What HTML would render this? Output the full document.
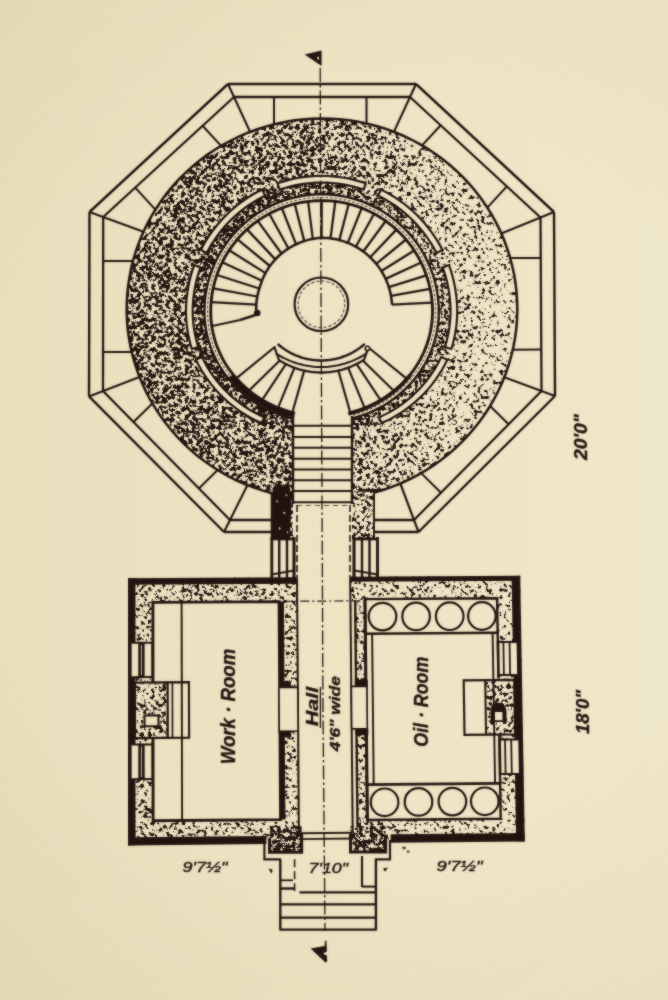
<!DOCTYPE html>
<html><head><meta charset="utf-8"><title>Lighthouse plan</title>
<style>html,body{margin:0;padding:0;background:#ebe3c2;}svg{display:block}</style>
</head><body>
<svg width="668" height="1000" viewBox="0 0 668 1000">
<defs>
<linearGradient id="paper" gradientUnits="userSpaceOnUse" x1="0" y1="0" x2="668" y2="0">
<stop offset="0" stop-color="#e8dfbd"/>
<stop offset="0.5" stop-color="#ece4c3"/>
<stop offset="1" stop-color="#efe7c9"/>
</linearGradient>
<radialGradient id="vig" gradientUnits="userSpaceOnUse" cx="350" cy="480" r="640">
<stop offset="0" stop-color="#8a7430" stop-opacity="0"/>
<stop offset="0.6" stop-color="#8a7430" stop-opacity="0"/>
<stop offset="1" stop-color="#8a7430" stop-opacity="0.065"/>
</radialGradient>
<linearGradient id="dens" gradientUnits="userSpaceOnUse" x1="127" y1="0" x2="517" y2="0">
<stop offset="0" stop-color="#818181"/>
<stop offset="0.45" stop-color="#838383"/>
<stop offset="0.62" stop-color="#8e8e8e"/>
<stop offset="0.8" stop-color="#9d9d9d"/>
<stop offset="1" stop-color="#a6a6a6"/>
</linearGradient>
<linearGradient id="bdens" x1="0" y1="0" x2="1" y2="0">
<stop offset="0" stop-color="#979797"/>
<stop offset="0.5" stop-color="#9b9b9b"/>
<stop offset="1" stop-color="#a2a2a2"/>
</linearGradient>
<filter id="stip" x="0" y="0" width="100%" height="100%" filterUnits="objectBoundingBox" color-interpolation-filters="sRGB">
<feTurbulence type="fractalNoise" baseFrequency="0.27" numOctaves="3" seed="7" result="n"/>
<feColorMatrix in="n" type="matrix" values="1 0 0 0 0  1 0 0 0 0  1 0 0 0 0  0 0 0 0 1" result="ng"/>
<feTurbulence type="fractalNoise" baseFrequency="0.07" numOctaves="2" seed="3" result="m"/>
<feColorMatrix in="m" type="matrix" values="1 0 0 0 0  1 0 0 0 0  1 0 0 0 0  0 0 0 0 1" result="mg"/>
<feComposite in="ng" in2="mg" operator="arithmetic" k1="0" k2="1" k3="0.25" k4="-0.125" result="nm"/>
<feComposite in="nm" in2="SourceGraphic" operator="arithmetic" k1="0" k2="1" k3="1" k4="-0.5" result="s"/>
<feComponentTransfer in="s" result="t">
<feFuncR type="linear" slope="10" intercept="-4.64"/>
<feFuncG type="linear" slope="10" intercept="-4.64"/>
<feFuncB type="linear" slope="10" intercept="-4.64"/>
</feComponentTransfer>
<feColorMatrix in="t" type="matrix" values="0 0 0 0 0.13  0 0 0 0 0.08  0 0 0 0 0.06  -1 0 0 0 1"/>
</filter>
<linearGradient id="dens2" gradientUnits="userSpaceOnUse" x1="190" y1="0" x2="455" y2="0">
<stop offset="0" stop-color="#898989"/>
<stop offset="0.5" stop-color="#8c8c8c"/>
<stop offset="1" stop-color="#969696"/>
</linearGradient>
<filter id="stip2" x="0" y="0" width="100%" height="100%" filterUnits="objectBoundingBox" color-interpolation-filters="sRGB">
<feTurbulence type="fractalNoise" baseFrequency="0.27" numOctaves="3" seed="23" result="n"/>
<feColorMatrix in="n" type="matrix" values="1 0 0 0 0  1 0 0 0 0  1 0 0 0 0  0 0 0 0 1" result="ng"/>
<feComposite in="ng" in2="SourceGraphic" operator="arithmetic" k1="0" k2="1" k3="1" k4="-0.5" result="s"/>
<feComponentTransfer in="s" result="t">
<feFuncR type="linear" slope="10" intercept="-4.64"/>
<feFuncG type="linear" slope="10" intercept="-4.64"/>
<feFuncB type="linear" slope="10" intercept="-4.64"/>
</feComponentTransfer>
<feColorMatrix in="t" type="matrix" values="0 0 0 0 0.13  0 0 0 0 0.08  0 0 0 0 0.06  -1 0 0 0 1"/>
</filter>
<filter id="soft" x="-2%" y="-2%" width="104%" height="104%" color-interpolation-filters="sRGB">
<feGaussianBlur stdDeviation="0.8" result="b"/>
<feComposite in="SourceGraphic" in2="b" operator="arithmetic" k1="0" k2="0.5" k3="0.5" k4="0"/>
</filter>

<clipPath id="towerOuter">
<path d="M126.7 309 A195.3 190.5 0 1 0 517.3 309 A195.3 190.5 0 1 0 126.7 309 Z"/>
<rect x="272.0" y="311.5" width="102.0" height="227.5"/>
</clipPath>
</defs>
<rect width="668" height="1000" fill="url(#paper)"/>
<g filter="url(#soft)">
<g clip-path="url(#towerOuter)">
<rect x="100" y="100" width="450" height="460" fill="url(#dens)" filter="url(#stip)"/>
</g>
<clipPath id="ring"><path clip-rule="evenodd" d="M321.6 181 L326.2 181.1 L330.7 181.3 L335.2 181.7 L339.8 182.3 L344.3 183 L348.7 183.9 L353.2 184.9 L357.6 186.1 L361.9 187.4 L366.2 188.9 L370.5 190.5 L374.7 192.3 L378.8 194.2 L382.9 196.3 L386.9 198.5 L390.8 200.8 L394.6 203.3 L398.3 205.9 L401.9 208.7 L405.5 211.5 L408.9 214.5 L412.3 217.6 L415.5 220.8 L418.6 224.2 L421.6 227.6 L424.4 231.2 L427.2 234.8 L429.8 238.5 L432.3 242.3 L434.6 246.2 L436.8 250.2 L438.9 254.3 L440.8 258.4 L442.6 262.6 L444.2 266.9 L445.7 271.2 L447 275.5 L448.2 279.9 L449.2 284.4 L450.1 288.8 L450.8 293.3 L451.4 297.9 L451.8 302.4 L452 306.9 L452.1 311.5 L452 315.8 L451.8 320.1 L451.4 324.4 L450.8 328.7 L450.1 332.9 L449.2 337.1 L448.2 341.3 L447 345.5 L445.7 349.6 L444.2 353.7 L442.6 357.7 L440.8 361.7 L438.9 365.6 L436.8 369.4 L434.6 373.2 L432.3 376.9 L429.8 380.5 L427.2 384 L424.4 387.4 L421.6 390.8 L418.6 394 L415.5 397.2 L412.3 400.2 L408.9 403.1 L405.5 406 L401.9 408.7 L398.3 411.3 L394.6 413.7 L390.8 416.1 L386.9 418.3 L382.9 420.4 L378.8 422.3 L374.7 424.2 L370.5 425.8 L366.2 427.4 L361.9 428.8 L357.6 430 L353.2 431.2 L348.7 432.1 L344.3 432.9 L339.8 433.6 L335.2 434.1 L330.7 434.5 L326.2 434.7 L321.6 434.8 L317 434.7 L312.5 434.5 L308 434.1 L303.4 433.6 L298.9 432.9 L294.5 432.1 L290 431.2 L285.6 430 L281.3 428.8 L277 427.4 L272.7 425.8 L268.5 424.2 L264.4 422.3 L260.3 420.4 L256.4 418.3 L252.4 416.1 L248.6 413.7 L244.9 411.3 L241.3 408.7 L237.7 406 L234.3 403.1 L230.9 400.2 L227.7 397.2 L224.6 394 L221.6 390.8 L218.8 387.4 L216 384 L213.4 380.5 L210.9 376.9 L208.6 373.2 L206.4 369.4 L204.3 365.6 L202.4 361.7 L200.6 357.7 L199 353.7 L197.5 349.6 L196.2 345.5 L195 341.3 L194 337.1 L193.1 332.9 L192.4 328.7 L191.8 324.4 L191.4 320.1 L191.2 315.8 L191.1 311.5 L191.2 306.9 L191.4 302.4 L191.8 297.9 L192.4 293.3 L193.1 288.8 L194 284.4 L195 279.9 L196.2 275.5 L197.5 271.2 L199 266.9 L200.6 262.6 L202.4 258.4 L204.3 254.3 L206.4 250.2 L208.6 246.2 L210.9 242.3 L213.4 238.5 L216 234.8 L218.8 231.2 L221.6 227.6 L224.6 224.2 L227.7 220.8 L230.9 217.6 L234.3 214.5 L237.7 211.5 L241.3 208.7 L244.9 205.9 L248.6 203.3 L252.4 200.8 L256.3 198.5 L260.3 196.3 L264.4 194.2 L268.5 192.3 L272.7 190.5 L277 188.9 L281.3 187.4 L285.6 186.1 L290 184.9 L294.5 183.9 L298.9 183 L303.4 182.3 L308 181.7 L312.5 181.3 L317 181.1 L321.6 181 Z"/></clipPath>
<g clip-path="url(#ring)"><rect x="180" y="170" width="290" height="290" fill="url(#dens2)" filter="url(#stip2)"/></g>
<path d="M272.5 488 L279 482 L284 487 L289 480 L291.5 500 L290 539 L272.5 539 Z" fill="#21140f"/>
<path d="M276 500 l2 1 l-1 2 z M283 512 l2.5 0.5 l-1 2.2 z M279 527 l2 1.2 l-2 1.5 z M286 494 l1.5 1.5 l-2 1 z M287 531 l1.5 1 l-1.5 1.5 z" fill="url(#paper)"/>
<g fill="url(#paper)" stroke="none">
<path d="M321.6 194.3 L325.7 194.4 L329.8 194.6 L333.9 194.9 L337.9 195.4 L342 196.1 L346 196.9 L350 197.8 L353.9 198.8 L357.8 200 L361.7 201.4 L365.5 202.8 L369.3 204.4 L373 206.2 L376.6 208 L380.2 210 L383.7 212.1 L387.1 214.3 L390.5 216.7 L393.8 219.1 L396.9 221.7 L400 224.4 L403 227.2 L405.9 230.1 L408.7 233.1 L411.4 236.2 L414 239.3 L416.4 242.6 L418.8 246 L421 249.4 L423.1 252.9 L425.1 256.5 L426.9 260.1 L428.7 263.8 L430.3 267.6 L431.7 271.4 L433.1 275.3 L434.3 279.2 L435.3 283.1 L436.2 287.1 L437 291.1 L437.7 295.2 L438.2 299.2 L438.5 303.3 L438.7 307.4 L438.8 311.5 L438.7 315.4 L438.5 319.2 L438.2 323.1 L437.7 326.9 L437 330.7 L436.2 334.5 L435.3 338.3 L434.3 342 L433.1 345.7 L431.7 349.4 L430.3 353 L428.7 356.5 L426.9 360.1 L425.1 363.5 L423.1 366.9 L421 370.2 L418.8 373.4 L416.4 376.6 L414 379.7 L411.4 382.7 L408.7 385.6 L405.9 388.4 L403 391.2 L400 393.8 L396.9 396.3 L393.8 398.8 L390.5 401.1 L387.1 403.3 L383.7 405.4 L380.2 407.4 L376.6 409.3 L373 411 L369.3 412.7 L365.5 414.2 L361.7 415.6 L357.8 416.8 L353.9 418 L350 419 L346 419.8 L342 420.6 L337.9 421.2 L333.9 421.6 L329.8 422 L325.7 422.2 L321.6 422.3 L317.5 422.2 L313.4 422 L309.3 421.6 L305.3 421.2 L301.2 420.6 L297.2 419.8 L293.2 419 L289.3 418 L285.4 416.8 L281.5 415.6 L277.7 414.2 L273.9 412.7 L270.2 411 L266.6 409.3 L263 407.4 L259.5 405.4 L256.1 403.3 L252.7 401.1 L249.4 398.8 L246.3 396.3 L243.2 393.8 L240.2 391.2 L237.3 388.4 L234.5 385.6 L231.8 382.7 L229.2 379.7 L226.8 376.6 L224.4 373.4 L222.2 370.2 L220.1 366.9 L218.1 363.5 L216.3 360.1 L214.5 356.5 L212.9 353 L211.5 349.4 L210.1 345.7 L208.9 342 L207.9 338.3 L207 334.5 L206.2 330.7 L205.5 326.9 L205 323.1 L204.7 319.2 L204.5 315.4 L204.4 311.5 L204.5 307.4 L204.7 303.3 L205 299.2 L205.5 295.2 L206.2 291.1 L207 287.1 L207.9 283.1 L208.9 279.2 L210.1 275.3 L211.5 271.4 L212.9 267.6 L214.5 263.8 L216.3 260.1 L218.1 256.5 L220.1 252.9 L222.2 249.4 L224.4 246 L226.8 242.6 L229.2 239.3 L231.8 236.2 L234.5 233.1 L237.3 230.1 L240.2 227.2 L243.2 224.4 L246.3 221.7 L249.4 219.1 L252.7 216.7 L256.1 214.3 L259.5 212.1 L263 210 L266.6 208 L270.2 206.2 L273.9 204.4 L277.7 202.8 L281.5 201.4 L285.4 200 L289.3 198.8 L293.2 197.8 L297.2 196.9 L301.2 196.1 L305.3 195.4 L309.3 194.9 L313.4 194.6 L317.5 194.4 L321.6 194.3 Z"/>
<rect x="293.0" y="311.5" width="59.0" height="229.5"/>
</g>
<g stroke="#21140f" fill="none" stroke-linecap="butt" stroke-linejoin="miter">
<line x1="228" y1="84" x2="416" y2="84" stroke-width="2.4" />
<line x1="416" y1="84" x2="554" y2="212" stroke-width="2.4" />
<line x1="554" y1="212" x2="555" y2="396" stroke-width="2.4" />
<line x1="555" y1="396" x2="418.5" y2="532" stroke-width="2.4" />
<line x1="418.5" y1="532" x2="374" y2="532" stroke-width="2.4" />
<line x1="272" y1="532" x2="224" y2="532" stroke-width="2.4" />
<line x1="224" y1="532" x2="89" y2="396.4" stroke-width="2.4" />
<line x1="89" y1="396.4" x2="89.5" y2="212" stroke-width="2.4" />
<line x1="89.5" y1="212" x2="228" y2="84" stroke-width="2.4" />
<line x1="234" y1="97" x2="410" y2="97" stroke-width="2.28" />
<line x1="410" y1="97" x2="540.5" y2="217.5" stroke-width="2.28" />
<line x1="540.5" y1="217.5" x2="541.5" y2="391" stroke-width="2.28" />
<line x1="541.5" y1="391" x2="414" y2="520" stroke-width="2.28" />
<line x1="414" y1="520" x2="374" y2="520" stroke-width="2.28" />
<line x1="272" y1="520" x2="230" y2="520" stroke-width="2.28" />
<line x1="230" y1="520" x2="103" y2="391" stroke-width="2.28" />
<line x1="103" y1="391" x2="103.2" y2="217" stroke-width="2.28" />
<line x1="103.2" y1="217" x2="234" y2="97" stroke-width="2.28" />
<line x1="228" y1="84" x2="250.1" y2="131.9" stroke-width="2.16" />
<line x1="416" y1="84" x2="393.9" y2="131.9" stroke-width="2.16" />
<line x1="554" y1="212" x2="501.3" y2="233.5" stroke-width="2.16" />
<line x1="555" y1="396" x2="504.3" y2="377.2" stroke-width="2.16" />
<line x1="418.5" y1="532" x2="400.3" y2="483.5" stroke-width="2.16" />
<line x1="224" y1="532" x2="247.5" y2="485.1" stroke-width="2.16" />
<line x1="89" y1="396.4" x2="139.5" y2="376.9" stroke-width="2.16" />
<line x1="89.5" y1="212" x2="143.5" y2="231.7" stroke-width="2.16" />
<line x1="274" y1="97" x2="274" y2="124.4" stroke-width="2.04" />
<line x1="366.5" y1="97" x2="366.5" y2="123.5" stroke-width="2.04" />
<line x1="440.7" y1="125.3" x2="422.1" y2="145.4" stroke-width="2.04" />
<line x1="506.8" y1="186.4" x2="487.3" y2="207.6" stroke-width="2.04" />
<line x1="540.7" y1="257.9" x2="510.2" y2="258.1" stroke-width="2.04" />
<line x1="541.3" y1="349.5" x2="512.8" y2="349.7" stroke-width="2.04" />
<line x1="508.6" y1="424.3" x2="490.1" y2="406" stroke-width="2.04" />
<line x1="441" y1="492.7" x2="421.2" y2="473.1" stroke-width="2.04" />
<line x1="198.9" y1="488.4" x2="217.6" y2="470" stroke-width="2.04" />
<line x1="133.5" y1="422" x2="152.4" y2="403.4" stroke-width="2.04" />
<line x1="103" y1="352" x2="131.8" y2="352.1" stroke-width="2.04" />
<line x1="103.1" y1="261" x2="133" y2="261.1" stroke-width="2.04" />
<line x1="135.2" y1="187.6" x2="155.4" y2="209.6" stroke-width="2.04" />
<line x1="202.6" y1="125.8" x2="221.1" y2="145.9" stroke-width="2.04" />
<path d="M272 493.2 L263 490.6 L254.2 487.6 L245.4 484.3 L236.9 480.5 L228.6 476.3 L220.5 471.7 L212.6 466.8 L205 461.5 L197.6 455.9 L190.5 449.9 L183.8 443.6 L177.3 436.9 L171.2 430 L165.4 422.8 L160 415.4 L155 407.7 L150.3 399.8 L146 391.6 L142.2 383.3 L138.7 374.8 L135.7 366.2 L133.1 357.4 L130.9 348.5 L129.2 339.5 L127.9 330.5 L127.1 321.4 L126.7 312.3 L126.8 303.1 L127.3 294 L128.3 284.9 L129.7 275.9 L131.5 266.9 L133.8 258.1 L136.5 249.3 L139.7 240.7 L143.2 232.3 L147.2 224 L151.6 215.9 L156.4 208.1 L161.5 200.4 L167 193.1 L172.9 185.9 L179.1 179.1 L185.7 172.6 L192.5 166.4 L199.7 160.5 L207.1 154.9 L214.8 149.7 L222.8 144.9 L231 140.5 L239.4 136.4 L247.9 132.7 L256.7 129.5 L265.6 126.6 L274.6 124.2 L283.7 122.2 L293 120.6 L302.3 119.5 L311.6 118.8 L321 118.5 L330.3 118.7 L339.7 119.3 L349 120.3 L358.2 121.8 L367.4 123.7 L376.4 126 L385.4 128.8 L394.1 132 L402.8 135.5 L411.2 139.5 L419.4 143.9 L427.4 148.6 L435.2 153.7 L442.7 159.2 L449.9 165 L456.8 171.2 L463.4 177.6 L469.7 184.4 L475.7 191.5 L481.3 198.8 L486.5 206.4 L491.4 214.2 L495.8 222.2 L499.9 230.4 L503.6 238.8 L506.8 247.4 L509.6 256.1 L512 265 L514 273.9 L515.5 282.9 L516.5 292 L517.1 301.1 L517.3 310.2 L517 319.4 L516.3 328.5 L515.1 337.5 L513.5 346.5 L511.4 355.4 L508.9 364.2 L506 372.9 L502.6 381.4 L498.9 389.8 L494.7 398 L490.1 406 L485.2 413.7 L479.8 421.2 L474.1 428.5 L468.1 435.4 L461.7 442.1 L455 448.5 L448 454.6 L440.7 460.3 L433.1 465.7 L425.3 470.7 L417.2 475.3 L408.9 479.6 L400.5 483.5 L391.8 486.9 L383 490 L374 492.6" fill="none" stroke-width="2.52" />
<line x1="272" y1="492.2" x2="272" y2="539" stroke-width="2.64" />
<line x1="374" y1="491.6" x2="374" y2="539" stroke-width="1.92" />
<path d="M277.5 183.3 L282.8 181.6 L288.2 180.1 L293.7 178.8 L299.2 177.8 L304.8 176.9 L310.4 176.4 L316 176 L321.6 175.9 L327.2 176 L332.8 176.4 L338.4 176.9 L344 177.8 L349.5 178.8 L355 180.1 L360.4 181.6 L365.7 183.3 L363.6 189.6 L358.5 188 L353.3 186.6 L348.1 185.4 L342.9 184.4 L337.6 183.6 L332.3 183 L326.9 182.7 L321.6 182.6 L316.3 182.7 L310.9 183 L305.6 183.6 L300.3 184.4 L295.1 185.4 L289.9 186.6 L284.7 188 L279.6 189.6 Z" fill="url(#paper)" stroke-width="2.16" />
<path d="M381 189.6 L385.9 192.1 L390.7 194.8 L395.3 197.7 L399.9 200.8 L404.3 204 L408.5 207.4 L412.7 211 L416.6 214.8 L420.5 218.7 L424.1 222.8 L427.6 227 L431 231.3 L434.1 235.8 L437.1 240.4 L439.8 245.1 L442.4 249.9 L436.5 253 L434 248.4 L431.4 243.9 L428.5 239.5 L425.6 235.3 L422.4 231.1 L419.1 227.1 L415.6 223.3 L411.9 219.6 L408.2 216 L404.2 212.6 L400.2 209.3 L396 206.2 L391.7 203.3 L387.3 200.6 L382.7 198 L378.1 195.6 Z" fill="url(#paper)" stroke-width="2.16" />
<path d="M449 265.1 L450.8 270.3 L452.3 275.5 L453.7 280.9 L454.8 286.2 L455.7 291.6 L456.4 297 L456.9 302.5 L457.2 308 L457.2 313.3 L457 318.5 L456.6 323.6 L456 328.8 L455.1 333.9 L454 339 L452.8 344 L451.3 349 L444.9 347.1 L446.3 342.4 L447.5 337.6 L448.5 332.8 L449.3 327.9 L449.9 323 L450.3 318.1 L450.5 313.2 L450.5 308.1 L450.2 302.9 L449.8 297.7 L449.1 292.6 L448.2 287.5 L447.2 282.4 L445.9 277.3 L444.4 272.3 L442.7 267.4 Z" fill="url(#paper)" stroke-width="2.16" />
<path d="M447.3 359.5 L444.8 364.7 L442 369.8 L438.9 374.7 L435.6 379.5 L432.2 384.1 L428.5 388.6 L424.6 393 L420.5 397.1 L416.2 401.1 L411.7 404.9 L407.1 408.4 L402.3 411.8 L397.4 415 L392.3 417.9 L387.1 420.6 L381.8 423.1 L378.8 417.5 L383.8 415.1 L388.7 412.6 L393.6 409.8 L398.3 406.8 L402.8 403.6 L407.2 400.2 L411.5 396.6 L415.5 392.8 L419.4 388.9 L423.1 384.8 L426.7 380.5 L430 376.1 L433.1 371.6 L436 366.9 L438.7 362.1 L441.1 357.1 Z" fill="url(#paper)" stroke-width="2.16" />
<path d="M200.8 249.9 L203.4 245.1 L206.1 240.4 L209.1 235.8 L212.2 231.3 L215.6 227 L219.1 222.8 L222.7 218.7 L226.6 214.8 L230.5 211 L234.7 207.4 L238.9 204 L243.3 200.8 L247.9 197.7 L252.5 194.8 L257.3 192.1 L262.2 189.6 L265.1 195.6 L260.5 198 L255.9 200.6 L251.5 203.3 L247.2 206.2 L243 209.3 L239 212.6 L235 216 L231.3 219.6 L227.6 223.3 L224.1 227.1 L220.8 231.1 L217.6 235.3 L214.7 239.5 L211.8 243.9 L209.2 248.4 L206.7 253 Z" fill="url(#paper)" stroke-width="2.16" />
<path d="M191.9 349 L190.4 344 L189.2 339 L188.1 333.9 L187.2 328.8 L186.6 323.6 L186.2 318.5 L186 313.3 L186 308 L186.3 302.5 L186.8 297 L187.5 291.6 L188.4 286.2 L189.5 280.9 L190.9 275.5 L192.4 270.3 L194.2 265.1 L200.5 267.4 L198.8 272.3 L197.3 277.3 L196 282.4 L195 287.5 L194.1 292.6 L193.4 297.7 L193 302.9 L192.7 308.1 L192.7 313.2 L192.9 318.1 L193.3 323 L193.9 327.9 L194.7 332.8 L195.7 337.6 L196.9 342.4 L198.3 347.1 Z" fill="url(#paper)" stroke-width="2.16" />
<path d="M195.9 359.5 L198.4 364.7 L201.2 369.8 L204.3 374.7 L207.6 379.5 L211 384.1 L214.7 388.6 L218.6 393 L222.7 397.1 L227 401.1 L231.5 404.9 L236.1 408.4 L240.9 411.8 L245.8 415 L250.9 417.9 L256.1 420.6 L261.4 423.1 L264.4 417.5 L259.4 415.1 L254.5 412.6 L249.6 409.8 L244.9 406.8 L240.4 403.6 L236 400.2 L231.7 396.6 L227.7 392.8 L223.8 388.9 L220.1 384.8 L216.5 380.5 L213.2 376.1 L210.1 371.6 L207.2 366.9 L204.5 362.1 L202.1 357.1 Z" fill="url(#paper)" stroke-width="2.16" />
<path d="M293 418.9 L288.3 417.7 L283.7 416.3 L279.2 414.7 L274.7 413 L270.3 411.1 L266 409 L261.8 406.8 L257.7 404.4 L253.7 401.8 L249.8 399.1 L246.1 396.2 L242.4 393.2 L239 390 L235.6 386.7 L232.4 383.3 L229.3 379.8 L226.4 376.1 L223.7 372.4 L221.1 368.5 L218.7 364.5 L216.5 360.5 L214.4 356.3 L212.6 352.1 L210.9 347.9 L209.4 343.5 L208.1 339.1 L207 334.7 L206.1 330.2 L205.4 325.7 L204.8 321.1 L204.5 316.6 L204.4 312 L204.5 307.2 L204.8 302.4 L205.2 297.6 L205.9 292.8 L206.8 288 L207.8 283.3 L209.1 278.6 L210.6 274 L212.2 269.5 L214 265 L216 260.6 L218.2 256.3 L220.6 252.1 L223.1 248 L225.8 244 L228.7 240.1 L231.7 236.3 L234.9 232.6 L238.2 229.1 L241.7 225.8 L245.3 222.6 L249 219.5 L252.9 216.6 L256.8 213.8 L260.9 211.2 L265.1 208.8 L269.4 206.6 L273.8 204.5 L278.2 202.6 L282.7 200.9 L287.3 199.4 L292 198.1 L296.7 197 L301.4 196 L306.2 195.3 L311 194.8 L315.8 194.4 L320.7 194.3 L325.5 194.4 L330.3 194.6 L335.1 195.1 L339.9 195.7 L344.7 196.6 L349.4 197.6 L354.1 198.9 L358.7 200.3 L363.2 201.9 L367.7 203.8 L372.1 205.8 L376.4 207.9 L380.7 210.3 L384.8 212.8 L388.8 215.5 L392.7 218.3 L396.5 221.4 L400.1 224.5 L403.7 227.8 L407 231.3 L410.3 234.9 L413.4 238.6 L416.3 242.4 L419.1 246.4 L421.7 250.5 L424.1 254.7 L426.3 258.9 L428.4 263.3 L430.3 267.7 L432 272.3 L433.6 276.8 L434.9 281.5 L436 286.2 L437 290.9 L437.7 295.7 L438.3 300.5 L438.6 305.3 L438.8 310.2 L438.7 314.8 L438.5 319.4 L438.1 323.9 L437.4 328.4 L436.6 332.9 L435.6 337.4 L434.3 341.8 L432.9 346.2 L431.3 350.5 L429.5 354.7 L427.5 358.9 L425.4 363 L423 367 L420.5 370.9 L417.8 374.7 L415 378.4 L412 382 L408.9 385.4 L405.6 388.8 L402.1 392 L398.5 395.1 L394.8 398 L391 400.8 L387 403.4 L383 405.9 L378.8 408.2 L374.5 410.3 L370.2 412.3 L365.7 414.1 L361.2 415.7 L356.6 417.2 L352 418.5" fill="none" stroke-width="2.4" />
<path d="M293 412.8 L288.6 411.6 L284.3 410.2 L280.1 408.7 L275.9 407 L271.8 405.1 L267.7 403.1 L263.8 401 L260 398.6 L256.3 396.2 L252.6 393.6 L249.1 390.8 L245.7 387.9 L242.5 384.9 L239.4 381.8 L236.4 378.6 L233.5 375.2 L230.9 371.7 L228.3 368.2 L225.9 364.5 L223.7 360.8 L221.7 356.9 L219.8 353 L218.1 349 L216.5 345 L215.1 340.9 L214 336.7 L213 332.5 L212.1 328.3 L211.5 324 L211 319.8 L210.8 315.5 L210.7 311.2 L210.8 306.6 L211.1 302.1 L211.6 297.5 L212.2 293 L213.1 288.6 L214.1 284.1 L215.3 279.8 L216.7 275.4 L218.3 271.1 L220 266.9 L222 262.8 L224 258.8 L226.3 254.8 L228.7 250.9 L231.3 247.2 L234 243.5 L236.8 240 L239.8 236.6 L243 233.3 L246.2 230.1 L249.6 227.1 L253.2 224.2 L256.8 221.5 L260.6 218.9 L264.4 216.5 L268.4 214.2 L272.4 212.1 L276.5 210.2 L280.7 208.4 L285 206.8 L289.3 205.4 L293.7 204.2 L298.1 203.1 L302.6 202.2 L307.1 201.6 L311.6 201.1 L316.1 200.7 L320.7 200.6 L325.2 200.7 L329.8 200.9 L334.3 201.3 L338.8 201.9 L343.3 202.7 L347.7 203.7 L352.1 204.9 L356.5 206.2 L360.8 207.7 L365 209.4 L369.1 211.3 L373.2 213.3 L377.2 215.5 L381.1 217.9 L384.9 220.4 L388.5 223.1 L392.1 225.9 L395.6 228.9 L398.9 232 L402.1 235.2 L405.2 238.6 L408.1 242.1 L410.9 245.7 L413.5 249.4 L415.9 253.2 L418.3 257.1 L420.4 261.1 L422.4 265.2 L424.2 269.4 L425.8 273.7 L427.3 278 L428.6 282.3 L429.7 286.7 L430.6 291.2 L431.4 295.7 L431.9 300.2 L432.3 304.7 L432.5 309.3 L432.5 313.7 L432.3 318 L431.9 322.3 L431.3 326.6 L430.6 330.8 L429.7 335 L428.6 339.2 L427.3 343.3 L425.8 347.4 L424.2 351.4 L422.3 355.3 L420.4 359.2 L418.2 363 L415.9 366.7 L413.4 370.3 L410.8 373.8 L408 377.2 L405.1 380.5 L402 383.7 L398.8 386.7 L395.5 389.7 L392 392.5 L388.4 395.1 L384.8 397.6 L381 400 L377.1 402.2 L373.1 404.3 L369 406.2 L364.9 408 L360.6 409.6 L356.3 411 L352 412.3" fill="none" stroke-width="2.88" />
<path d="M293 415.8 L288.5 414.6 L284 413.3 L279.6 411.7 L275.3 410 L271.1 408.1 L266.9 406.1 L262.8 403.9 L258.8 401.5 L255 399 L251.2 396.3 L247.6 393.5 L244.1 390.6 L240.7 387.5 L237.5 384.3 L234.4 380.9 L231.4 377.5 L228.6 373.9 L226 370.3 L223.5 366.5 L221.2 362.6 L219.1 358.7 L217.1 354.7 L215.3 350.6 L213.7 346.4 L212.3 342.2 L211 337.9 L210 333.6 L209.1 329.2 L208.4 324.9 L207.9 320.4 L207.7 316 L207.6 311.6 L207.6 306.9 L207.9 302.2 L208.4 297.5 L209.1 292.9 L209.9 288.3 L211 283.7 L212.2 279.2 L213.6 274.7 L215.2 270.3 L217 266 L219 261.7 L221.1 257.5 L223.4 253.4 L225.9 249.5 L228.5 245.6 L231.3 241.8 L234.3 238.1 L237.4 234.6 L240.6 231.2 L244 228 L247.5 224.8 L251.1 221.9 L254.8 219 L258.7 216.4 L262.7 213.9 L266.7 211.5 L270.9 209.3 L275.1 207.3 L279.5 205.5 L283.9 203.9 L288.3 202.4 L292.8 201.1 L297.4 200 L302 199.1 L306.6 198.4 L311.3 197.9 L316 197.6 L320.7 197.5 L325.4 197.5 L330 197.8 L334.7 198.2 L339.4 198.8 L344 199.7 L348.6 200.7 L353.1 201.9 L357.6 203.3 L362 204.8 L366.4 206.6 L370.6 208.5 L374.8 210.6 L378.9 212.9 L382.9 215.3 L386.8 218 L390.6 220.7 L394.3 223.6 L397.9 226.7 L401.3 229.9 L404.6 233.2 L407.7 236.7 L410.7 240.3 L413.6 244.1 L416.3 247.9 L418.8 251.8 L421.2 255.9 L423.4 260 L425.4 264.3 L427.3 268.6 L428.9 273 L430.4 277.4 L431.7 281.9 L432.9 286.5 L433.8 291.1 L434.6 295.7 L435.1 300.4 L435.5 305 L435.6 309.7 L435.6 314.3 L435.4 318.7 L435 323.1 L434.4 327.5 L433.6 331.9 L432.6 336.2 L431.4 340.5 L430.1 344.7 L428.5 348.9 L426.8 353.1 L424.9 357.1 L422.9 361.1 L420.6 365 L418.2 368.8 L415.6 372.5 L412.9 376.1 L410 379.6 L407 383 L403.8 386.2 L400.5 389.4 L397 392.4 L393.4 395.2 L389.7 397.9 L385.9 400.5 L382 402.9 L377.9 405.2 L373.8 407.3 L369.6 409.3 L365.3 411.1 L360.9 412.7 L356.5 414.1 L352 415.4" fill="none" stroke-width="1.08" stroke-dasharray="2.5 2" stroke-opacity="0.75"/>
<line x1="392" y1="304.7" x2="432.1" y2="302.6" stroke-width="2.28" />
<line x1="391" y1="295.8" x2="430.1" y2="288.8" stroke-width="2.28" />
<line x1="388.8" y1="287.2" x2="426.4" y2="275.4" stroke-width="2.28" />
<line x1="385.6" y1="278.9" x2="421.1" y2="262.5" stroke-width="2.28" />
<line x1="381.4" y1="271" x2="414.2" y2="250.5" stroke-width="2.28" />
<line x1="376.2" y1="263.8" x2="406" y2="239.5" stroke-width="2.28" />
<line x1="370.2" y1="257.2" x2="396.4" y2="229.6" stroke-width="2.28" />
<line x1="363.3" y1="251.5" x2="385.7" y2="221" stroke-width="2.28" />
<line x1="355.8" y1="246.7" x2="374.1" y2="213.8" stroke-width="2.28" />
<line x1="347.8" y1="242.9" x2="361.7" y2="208.1" stroke-width="2.28" />
<line x1="339.3" y1="240.1" x2="348.7" y2="204" stroke-width="2.28" />
<line x1="330.5" y1="238.4" x2="335.3" y2="201.5" stroke-width="2.28" />
<line x1="321.6" y1="237.8" x2="321.7" y2="200.6" stroke-width="2.28" />
<line x1="312.8" y1="238.9" x2="308.1" y2="201.4" stroke-width="2.28" />
<line x1="304.3" y1="241.1" x2="294.7" y2="203.9" stroke-width="2.28" />
<line x1="296.1" y1="244.3" x2="281.8" y2="208" stroke-width="2.28" />
<line x1="288.5" y1="248.5" x2="269.3" y2="213.7" stroke-width="2.28" />
<line x1="281.5" y1="253.5" x2="257.7" y2="220.9" stroke-width="2.28" />
<line x1="275.3" y1="259.4" x2="247" y2="229.4" stroke-width="2.28" />
<line x1="269.9" y1="266" x2="237.5" y2="239.3" stroke-width="2.28" />
<line x1="265.5" y1="273.1" x2="229.2" y2="250.2" stroke-width="2.28" />
<line x1="262" y1="280.7" x2="222.3" y2="262.2" stroke-width="2.28" />
<line x1="259.3" y1="288.5" x2="216.9" y2="275" stroke-width="2.28" />
<line x1="257.3" y1="296.5" x2="213.1" y2="288.4" stroke-width="2.28" />
<line x1="256.3" y1="304.7" x2="211.1" y2="302.2" stroke-width="2.28" />
<path d="M256.3 311.8 L256.2 309.5 L256.2 307.3 L256.3 305 L256.4 302.7 L256.7 300.4 L257 298.2 L257.4 295.9 L257.9 293.7 L258.4 291.5 L259.1 289.3 L259.8 287.1 L260.5 285 L261.2 282.8 L262 280.6 L262.8 278.5 L263.8 276.4 L264.8 274.3 L265.9 272.3 L267.1 270.3 L268.3 268.3 L269.6 266.4 L271 264.5 L272.5 262.7 L274 260.9 L275.6 259.1 L277.2 257.5 L278.9 255.8 L280.7 254.3 L282.5 252.7 L284.4 251.3 L286.3 249.9 L288.3 248.6 L290.4 247.3 L292.5 246.1 L294.6 245 L296.8 244 L299 243 L301.2 242.1 L303.5 241.3 L305.8 240.6 L308.2 239.9 L310.6 239.3 L313 238.9 L315.4 238.4 L317.8 238.1 L320.3 237.9 L322.7 237.8 L325.2 237.9 L327.7 238.1 L330.1 238.3 L332.5 238.7 L335 239.1 L337.4 239.6 L339.8 240.2 L342.1 240.9 L344.5 241.6 L346.8 242.5 L349.1 243.4 L351.3 244.4 L353.6 245.5 L355.7 246.7 L357.9 247.9 L360 249.2 L362 250.6 L364 252 L365.9 253.5 L367.8 255.1 L369.6 256.8 L371.4 258.5 L373.1 260.3 L374.8 262.1 L376.4 264 L377.9 265.9 L379.3 267.9 L380.7 269.9 L382 272 L383.2 274.2 L384.4 276.3 L385.5 278.6 L386.5 280.8 L387.4 283.1 L388.3 285.4 L389 287.8 L389.7 290.1 L390.3 292.5 L390.8 294.9 L391.2 297.4 L391.6 299.8 L391.8 302.2 L392 304.7" fill="none" stroke-width="2.52" />
<circle cx="257.2" cy="313" r="3.3" stroke="none" fill="#21140f"/>
<line x1="255.5" y1="315" x2="240" y2="320" stroke-width="2.4" />
<line x1="240" y1="320" x2="212.3" y2="326" stroke-width="2.28" />
<circle cx="321.4" cy="304.3" r="26.8" stroke-width="2.2"/>
<circle cx="321.4" cy="304.3" r="23.3" stroke-width="1.1" stroke-dasharray="3 2.2" stroke-opacity="0.8"/>
<path d="M364.7 344 L362.9 345.5 L361 347 L359.1 348.4 L357.1 349.8 L355.1 351 L353.1 352.2 L351 353.4 L348.8 354.4 L346.7 355.4 L344.5 356.2 L342.2 357 L340 357.8 L337.7 358.4 L335.4 359 L333 359.4 L330.7 359.8 L328.3 360.1 L326 360.3 L323.6 360.5 L321.2 360.5 L318.8 360.5 L316.4 360.3 L314.1 360.1 L311.7 359.8 L309.4 359.4 L307 359 L304.7 358.4 L302.4 357.8 L300.2 357 L297.9 356.2 L295.7 355.4 L293.6 354.4 L291.4 353.4 L289.3 352.2 L287.3 351 L285.3 349.8 L283.3 348.4 L281.4 347 L279.5 345.5 L277.7 344" fill="none" stroke-width="2.4" />
<path d="M366.7 353.2 L364.7 354.5 L362.6 355.8 L360.5 357 L358.4 358.1 L356.2 359.1 L354 360.1 L351.8 361.1 L349.5 361.9 L347.3 362.7 L345 363.5 L342.7 364.1 L340.3 364.7 L338 365.3 L335.6 365.7 L333.2 366.1 L330.8 366.4 L328.4 366.7 L326 366.9 L323.6 367 L321.2 367 L318.8 367 L316.4 366.9 L314 366.7 L311.6 366.4 L309.2 366.1 L306.8 365.7 L304.4 365.3 L302.1 364.7 L299.7 364.1 L297.4 363.5 L295.1 362.7 L292.9 361.9 L290.6 361.1 L288.4 360.1 L286.2 359.1 L284 358.1 L281.9 357 L279.8 355.8 L277.7 354.5 L275.7 353.2" fill="none" stroke-width="2.04" />
<path d="M363.7 359.9 L361.8 361.1 L359.9 362.3 L357.9 363.3 L355.9 364.4 L353.9 365.3 L351.8 366.2 L349.7 367.1 L347.6 367.9 L345.5 368.6 L343.4 369.3 L341.2 369.9 L339 370.4 L336.8 370.9 L334.6 371.3 L332.4 371.7 L330.2 372 L327.9 372.2 L325.7 372.4 L323.4 372.5 L321.2 372.5 L319 372.5 L316.7 372.4 L314.5 372.2 L312.2 372 L310 371.7 L307.8 371.3 L305.6 370.9 L303.4 370.4 L301.2 369.9 L299 369.3 L296.9 368.6 L294.8 367.9 L292.7 367.1 L290.6 366.2 L288.5 365.3 L286.5 364.4 L284.5 363.3 L282.5 362.3 L280.6 361.1 L278.7 359.9" fill="none" stroke-width="2.28" />
<line x1="275.4" y1="346.5" x2="235.7" y2="378.8" stroke-width="2.16" />
<line x1="367.2" y1="346.5" x2="406.9" y2="378.8" stroke-width="2.16" />
<line x1="279.8" y1="360.6" x2="247.6" y2="392" stroke-width="2.16" />
<line x1="362.8" y1="360.6" x2="395" y2="392" stroke-width="2.16" />
<line x1="285.9" y1="364.1" x2="262.4" y2="399.6" stroke-width="2.16" />
<line x1="356.7" y1="364.1" x2="380.2" y2="399.6" stroke-width="2.16" />
<line x1="294.4" y1="367.8" x2="278.2" y2="407.4" stroke-width="2.16" />
<line x1="348.2" y1="367.8" x2="364.4" y2="407.4" stroke-width="2.16" />
<line x1="304.2" y1="370.6" x2="291.8" y2="414.5" stroke-width="2.16" />
<line x1="338.4" y1="370.6" x2="350.8" y2="414.5" stroke-width="2.16" />
<line x1="274.6" y1="347.5" x2="279.5" y2="361.5" stroke-width="2.16" />
<line x1="368.4" y1="347.5" x2="363.5" y2="361.5" stroke-width="2.16" />
<circle cx="367.4" cy="348.4" r="2.2" stroke-width="1.5" fill="url(#paper)"/>
<path d="M293.5 418 L287.6 416.5 L281.9 414.7 L276.2 412.6 L270.7 410.2 L265.3 407.5 L260 404.6 L255 401.5 L250.1 398 L245.4 394.4 L240.9 390.5 L236.6 386.4 L232.6 382.1 L228.8 377.6 L234 373.9 L237.6 378.1 L241.4 382.2 L245.4 386.1 L249.6 389.7 L254.1 393.2 L258.7 396.4 L263.5 399.4 L268.4 402.2 L273.5 404.7 L278.7 406.9 L284.1 408.9 L289.5 410.6 L295.1 412.1 Z" fill="#21140f" stroke-width="0.6" />
<path d="M411.9 375.8 L408.2 380.2 L404.3 384.4 L400.2 388.4 L395.8 392.2 L391.2 395.7 L386.5 399.1 L381.5 402.1 L376.4 405 L371.2 407.6 L365.8 409.9 L360.3 411.9 L354.7 413.7 L349 415.2 L348.1 412.1 L353.7 410.6 L359.1 408.9 L364.5 406.9 L369.7 404.7 L374.8 402.2 L379.7 399.4 L384.5 396.4 L389.1 393.2 L393.6 389.7 L397.8 386.1 L401.8 382.2 L405.6 378.1 L409.2 373.9 Z" fill="#21140f" stroke-width="0.6" />
<line x1="293" y1="416" x2="293" y2="504" stroke-width="2.4" />
<line x1="352" y1="416" x2="352" y2="504" stroke-width="2.4" />
<line x1="293" y1="425.8" x2="352" y2="425.8" stroke-width="1.98" />
<line x1="293" y1="437" x2="352" y2="437" stroke-width="1.98" />
<line x1="293" y1="447.8" x2="352" y2="447.8" stroke-width="1.98" />
<line x1="293" y1="458.8" x2="352" y2="458.8" stroke-width="1.98" />
<line x1="293" y1="469.6" x2="352" y2="469.6" stroke-width="1.98" />
<line x1="293" y1="480.2" x2="352" y2="480.2" stroke-width="1.98" />
<line x1="293" y1="491" x2="352" y2="491" stroke-width="1.98" />
<line x1="293" y1="502.2" x2="352" y2="502.2" stroke-width="1.98" />
<line x1="297" y1="505" x2="297" y2="578" stroke-width="1.56" stroke-dasharray="7 3"/>
<line x1="350" y1="505" x2="350" y2="578" stroke-width="1.56" stroke-dasharray="7 3"/>
<line x1="297" y1="505.5" x2="350" y2="505.5" stroke-width="1.2" stroke-dasharray="5 4" stroke-opacity="0.7"/>
<line x1="271.8" y1="537" x2="271.8" y2="578" stroke-width="2.88" />
<line x1="279.2" y1="537" x2="279.2" y2="578" stroke-width="2.4" />
<line x1="287" y1="537" x2="287" y2="578" stroke-width="2.4" />
<line x1="294" y1="537" x2="294" y2="578" stroke-width="3.12" />
<line x1="354" y1="537" x2="354" y2="578" stroke-width="3.12" />
<line x1="362" y1="537" x2="362" y2="578" stroke-width="2.4" />
<line x1="369.5" y1="537" x2="369.5" y2="578" stroke-width="2.4" />
<line x1="377.5" y1="537" x2="377.5" y2="578" stroke-width="2.88" />
<line x1="271.8" y1="574.5" x2="294" y2="570.5" stroke-width="1.92" />
<line x1="354" y1="570.5" x2="377.5" y2="574.5" stroke-width="1.92" />
<line x1="272" y1="539" x2="294" y2="539" stroke-width="2.64" />
<line x1="353" y1="539" x2="378" y2="539" stroke-width="2.64" />
</g>
<clipPath id="bwall"><path d="M128 578.2 L297 577.2 L299 840.7 L128 842.3 Z M350.2 576.8 L520.2 575.8 L524.7 838.5 L352.8 840.1 Z M269.6 830 H301.6 V852 H269.6 Z M350.6 830 H385.6 V852 H350.6 Z"/></clipPath>
<g clip-path="url(#bwall)">
<rect x="120" y="570" width="412" height="295" fill="url(#bdens)" filter="url(#stip)"/>
</g>
<clipPath id="pil"><path d="M269.6 826 H301.6 V852 H269.6 Z M350.6 826 H385.6 V852 H350.6 Z"/></clipPath>
<g clip-path="url(#pil)"><rect x="260" y="820" width="135" height="40" fill="#808080" filter="url(#stip2)"/></g>
<path d="M152.9 602.4 L279.1 601.6 L280.6 819.6 L153.1 820.8 Z" fill="url(#paper)" stroke="none"/>
<path d="M364.9 599.1 L497.1 598.3 L500.7 818.7 L367.3 820 Z" fill="url(#paper)" stroke="none"/>
<g stroke="#21140f" fill="none">
<path d="M128 578.2 L135.5 578.1 L135.5 845.3 L128 845.4 Z" fill="#21140f" stroke="none"/>
<path d="M128 578.2 L297.5 577.2 L297.5 583.7 L128 584.7 Z" fill="#21140f" stroke="none"/>
<path d="M349.7 576.8 L520.2 575.8 L520.2 580.8 L349.7 581.8 Z" fill="#21140f" stroke="none"/>
<path d="M511.6 575.9 L520.2 575.8 L524.8 841.4 L516.1 841.5 Z" fill="#21140f" stroke="none"/>
<path d="M128 837.3 L266.3 836 L266.4 844 L128 845.4 Z" fill="#21140f" stroke="none"/>
<path d="M390.6 834.3 L524.6 833 L524.8 841.4 L390.7 842.8 Z" fill="#21140f" stroke="none"/>
<path d="M152.9 602.4 L279.1 601.6 L280.6 819.6 L153.1 820.8 Z" fill="none" stroke-width="2.88" />
<path d="M364.9 599.1 L497.1 598.3 L500.7 818.7 L367.3 820 Z" fill="none" stroke-width="2.4" />
<path d="M278.9 601.6 L283.9 601.6 L285.4 819.6 L280.4 819.6 Z" fill="#21140f" stroke="none"/>
<path d="M351.2 600.7 L354 600.7 L356.3 828.1 L353.5 828.1 Z" fill="url(#paper)" stroke="none"/>
<path d="M354 600.7 L356.4 600.7 L358.7 826.1 L356.3 826.1 Z" fill="#21140f" stroke="none"/>
<path d="M363.5 599.2 L366.5 599.1 L368.9 820 L365.9 820 Z" fill="#21140f" stroke="none"/>
<line x1="297" y1="579.2" x2="298.9" y2="833.3" stroke-width="2.04" />
<line x1="350.2" y1="578.8" x2="352.7" y2="832.7" stroke-width="2.04" />
<line x1="298.9" y1="833.3" x2="352.7" y2="832.7" stroke-width="2.04" />
<line x1="298.9" y1="839.1" x2="352.8" y2="838.5" stroke-width="1.8" />
<line x1="283.3" y1="601.3" x2="363" y2="600.8" stroke-width="1.2" stroke-dasharray="9 3 2 3"/>
<line x1="181.6" y1="602.2" x2="182.1" y2="820.6" stroke-width="1.92" />
</g>
<g stroke="#21140f">
<path d="M278.9 687.3 L297.8 687.2 L298.1 731.2 L279.2 731.4 Z" fill="url(#paper)" stroke-width="1.68" />
<path d="M351.3 686.3 L366.9 686.2 L367.3 728.7 L351.7 728.8 Z" fill="url(#paper)" stroke-width="1.68" />
</g>
<path d="M278.9 681.3 L290.9 681.3 L290.9 687.8 L278.9 687.8 Z" fill="#21140f" stroke="none"/>
<path d="M279.2 730.9 L291.2 730.8 L291.3 737.3 L279.2 737.4 Z" fill="#21140f" stroke="none"/>
<path d="M354.8 679.8 L367.8 679.7 L367.9 686.2 L354.9 686.3 Z" fill="#21140f" stroke="none"/>
<path d="M355.3 728.8 L368.3 728.6 L368.4 735.1 L355.4 735.3 Z" fill="#21140f" stroke="none"/>
<path d="M131.6 642.8 L152.9 642.7 L153 677.1 L131.6 677.2 Z" fill="url(#paper)" stroke="none"/>
<path d="M138.3 642.8 L144.6 642.7 L144.6 677.1 L138.3 677.2 Z" fill="#21140f" stroke="none"/>
<g stroke="#21140f" fill="none">
<line x1="141.4" y1="644.8" x2="141.4" y2="675.2" stroke-width="0.84" stroke="#ebe3c2"/>
<line x1="152.5" y1="641.7" x2="152.6" y2="678.1" stroke-width="2.64" />
<line x1="131.6" y1="642.8" x2="152.9" y2="642.7" stroke-width="2.04" />
<line x1="131.6" y1="677.2" x2="153" y2="677.1" stroke-width="2.04" />
</g>
<path d="M131.6 744.6 L153 744.4 L153.1 779 L131.6 779.2 Z" fill="url(#paper)" stroke="none"/>
<path d="M138.3 744.6 L144.6 744.5 L144.7 779.1 L138.3 779.2 Z" fill="#21140f" stroke="none"/>
<g stroke="#21140f" fill="none">
<line x1="141.4" y1="746.5" x2="141.4" y2="777.1" stroke-width="0.84" stroke="#ebe3c2"/>
<line x1="152.6" y1="743.4" x2="152.7" y2="780" stroke-width="2.64" />
<line x1="131.6" y1="744.6" x2="153" y2="744.4" stroke-width="2.04" />
<line x1="131.6" y1="779.2" x2="153.1" y2="779" stroke-width="2.04" />
</g>
<path d="M497.8 642 L516.6 641.9 L517.2 674.9 L498.3 675 Z" fill="url(#paper)" stroke="none"/>
<g stroke="#21140f" fill="none">
<line x1="503.4" y1="642" x2="503.9" y2="675" stroke-width="1.8" />
<line x1="509.5" y1="641.9" x2="510.1" y2="674.9" stroke-width="1.8" />
<line x1="498" y1="641" x2="498.5" y2="676" stroke-width="2.64" />
<line x1="497.8" y1="642" x2="516.6" y2="641.9" stroke-width="2.04" />
<line x1="498.3" y1="675" x2="517.2" y2="674.9" stroke-width="2.04" />
</g>
<path d="M499.4 739.5 L518.3 739.4 L518.9 773.9 L499.9 774.1 Z" fill="url(#paper)" stroke="none"/>
<g stroke="#21140f" fill="none">
<line x1="505" y1="739.5" x2="505.6" y2="774" stroke-width="1.8" />
<line x1="511.2" y1="739.4" x2="511.8" y2="774" stroke-width="1.8" />
<line x1="499.6" y1="738.5" x2="500.2" y2="775.1" stroke-width="2.64" />
<line x1="499.4" y1="739.5" x2="518.3" y2="739.4" stroke-width="2.04" />
<line x1="499.9" y1="774.1" x2="518.9" y2="773.9" stroke-width="2.04" />
</g>
<clipPath id="fp"><path d="M135 683.4 L168 683.2 L168.1 737.3 L135 737.6 Z M485.2 679.3 L513.7 679.1 L514.6 734.4 L486.1 734.7 Z "/></clipPath>
<path d="M134.5 682.6 L168 682.4 L168.1 737.8 L134.5 738.1 Z" fill="url(#paper)" stroke="none"/>
<path d="M485.2 678.8 L514.2 678.6 L515.1 734.4 L486.1 734.7 Z" fill="url(#paper)" stroke="none"/>
<g clip-path="url(#fp)"><rect x="120" y="670" width="410" height="80" fill="#939393" filter="url(#stip)"/></g>
<g stroke="#21140f" fill="none">
<path d="M135 682.6 L188.9 682.2 L189.1 737.6 L135 738.1 Z" fill="none" stroke-width="2.16" />
<line x1="167.6" y1="682.4" x2="167.7" y2="737.8" stroke-width="2.28" />
<line x1="172.4" y1="682.3" x2="172.5" y2="737.8" stroke-width="1.68" />
<path d="M144.5 715.4 L158.5 715.3 L158.5 726.2 L144.5 726.3 Z" fill="url(#paper)" stroke-width="2.04" />
<path d="M463.7 680.3 L514.2 679.9 L515.1 734.4 L464.5 734.8 Z" fill="none" stroke-width="2.16" />
<line x1="485.2" y1="680.1" x2="486.1" y2="734.7" stroke-width="2.04" />
<path d="M490.5 724 L490.5 711 Q491 703 498 702.5 Q506.5 703 506.5 712 L506.5 724 L503 724 L503 712 L493.5 712 L493.5 724 Z" fill="#21140f" stroke="none"/>
<path d="M493.7 711.2 L503.2 711.1 L503.4 721.1 L493.9 721.1 Z" fill="url(#paper)" stroke-width="1.8" />
</g>
<g stroke="#21140f" fill="none">
<line x1="365.3" y1="633.7" x2="497.6" y2="632.8" stroke-width="2.64" />
<line x1="366.9" y1="784.6" x2="500.1" y2="783.4" stroke-width="2.64" />
<line x1="372.1" y1="633.7" x2="373.7" y2="784.6" stroke-width="1.92" />
<line x1="492.6" y1="632.9" x2="495.1" y2="783.5" stroke-width="1.92" />
<circle cx="382.5" cy="616.6" r="13.8" stroke-width="2.2"/>
<circle cx="384.6" cy="802.3" r="13.8" stroke-width="2.2"/>
<circle cx="416.1" cy="616.4" r="13.8" stroke-width="2.2"/>
<circle cx="418.5" cy="801.9" r="13.8" stroke-width="2.2"/>
<circle cx="449.7" cy="616.2" r="13.8" stroke-width="2.2"/>
<circle cx="452.4" cy="801.6" r="13.8" stroke-width="2.2"/>
<circle cx="481.9" cy="616" r="13.8" stroke-width="2.2"/>
<circle cx="484.8" cy="801.3" r="13.8" stroke-width="2.2"/>
</g>
<g stroke="#21140f" fill="none">
<path d="M269.6 838 L269.6 852.2 L301.6 852.2 L301.6 834" fill="none" stroke-width="3.12" />
<path d="M350.6 834 L350.6 852 L385.6 852 L385.6 836" fill="none" stroke-width="3.12" />
<path d="M264.4 843 L264.4 859.4 L281 859.4" fill="none" stroke-width="2.16" />
<path d="M375 859.3 L390 859.3 L390 840" fill="none" stroke-width="2.16" />
<line x1="280.3" y1="859.3" x2="280.3" y2="930.5" stroke-width="2.4" />
<line x1="375.9" y1="859.3" x2="375.9" y2="930.5" stroke-width="2.4" />
<line x1="299.5" y1="892.3" x2="375.9" y2="892.3" stroke-width="2.28" />
<line x1="280.3" y1="904.4" x2="375.9" y2="904.4" stroke-width="2.28" />
<line x1="280.3" y1="917.6" x2="375.9" y2="917.6" stroke-width="2.28" />
<line x1="280.3" y1="929.6" x2="375.9" y2="929.6" stroke-width="2.28" />
<line x1="294.6" y1="859.3" x2="294.6" y2="891" stroke-width="1.56" stroke-dasharray="8 4"/>
<line x1="280.3" y1="880.3" x2="293" y2="880.3" stroke-width="1.8" />
<line x1="280.3" y1="888.5" x2="294.6" y2="888.5" stroke-width="2.4" />
<line x1="362" y1="856" x2="362" y2="887" stroke-width="2.16" />
<line x1="362" y1="886.6" x2="375.9" y2="886.6" stroke-width="2.04" />
<path d="M402 847 l3.5 -0.5 l0.5 2.2 l-3 0.8 z M407 850.5 l2.5 0 l0 2 l-2.5 0.3 z" fill="#21140f" stroke="none" opacity="0.8"/>
<path d="M268.5 868.5 l4.2 1.2 l-1.2 4 z M388 867.5 l-5 1 l2 3.2 z" fill="#21140f" stroke="none"/>
</g>
<g stroke="#21140f" fill="none">
<path d="M320.2 68 L321 300 L322.5 600 L322.9 700 L325 931" fill="none" stroke-width="1.32" stroke-dasharray="14 3 2.5 3"/>
</g>
<g fill="#21140f" stroke="none">
<path fill-rule="evenodd" d="M304.6 54.6 L321.6 50.6 L321.6 66 Z M316.6 57.2 L319 56.7 L319 60.6 Z"/>
<path d="M310.6 948.4 L324.6 946.1 L325 940.8 L326.4 940.8 L326.8 948 L326.9 951.6 L323 953.6 L327 955.8 L327.1 961.8 L325.4 962.5 Z"/>
</g>
<text transform="translate(234.8 706.5) rotate(-90)" text-anchor="middle" font-family="Liberation Sans" font-weight="bold" font-style="italic" font-size="19.5" textLength="115.5" lengthAdjust="spacingAndGlyphs" fill="#21140f" stroke="#21140f" stroke-width="0.35">Work &#183; Room</text>
<text transform="translate(428.3 701.7) rotate(-90)" text-anchor="middle" font-family="Liberation Sans" font-weight="bold" font-style="italic" font-size="19.5" textLength="90" lengthAdjust="spacingAndGlyphs" fill="#21140f" stroke="#21140f" stroke-width="0.35">Oil &#183; Room</text>
<text transform="translate(318 706.5) rotate(-90)" text-anchor="middle" font-family="Liberation Sans" font-weight="bold" font-style="italic" font-size="16.5" textLength="39.5" lengthAdjust="spacingAndGlyphs" fill="#21140f" stroke="#21140f" stroke-width="0.35">Hall</text>
<line x1="320.4" y1="687" x2="320.4" y2="728" stroke="#21140f" stroke-width="1.4"/>
<text transform="translate(339.8 713.7) rotate(-90)" text-anchor="middle" font-family="Liberation Sans" font-weight="bold" font-style="italic" font-size="15" textLength="75" lengthAdjust="spacingAndGlyphs" fill="#21140f" stroke="#21140f" stroke-width="0.35">4'6" wide</text>
<text transform="translate(586.5 437) rotate(-90)" text-anchor="middle" font-family="Liberation Sans" font-weight="bold" font-style="italic" font-size="18.5" textLength="46" lengthAdjust="spacingAndGlyphs" fill="#21140f" stroke="#21140f" stroke-width="0.35">20'0"</text>
<text transform="translate(588.5 712) rotate(-90)" text-anchor="middle" font-family="Liberation Sans" font-weight="bold" font-style="italic" font-size="18.5" textLength="44" lengthAdjust="spacingAndGlyphs" fill="#21140f" stroke="#21140f" stroke-width="0.35">18'0"</text>
<text transform="translate(205 871.5) rotate(0)" text-anchor="middle" font-family="Liberation Sans" font-weight="normal" font-style="italic" font-size="15.5" textLength="45" lengthAdjust="spacingAndGlyphs" fill="#21140f" stroke="#21140f" stroke-width="0.45">9'7&#189;"</text>
<text transform="translate(459.5 870.5) rotate(0)" text-anchor="middle" font-family="Liberation Sans" font-weight="normal" font-style="italic" font-size="15.5" textLength="46" lengthAdjust="spacingAndGlyphs" fill="#21140f" stroke="#21140f" stroke-width="0.45">9'7&#189;"</text>
<text transform="translate(328.3 872.5) rotate(0)" text-anchor="middle" font-family="Liberation Sans" font-weight="normal" font-style="italic" font-size="14.5" textLength="39.5" lengthAdjust="spacingAndGlyphs" fill="#21140f" stroke="#21140f" stroke-width="0.4">7'10"</text>
</g>
<rect width="668" height="1000" fill="url(#vig)"/>
</svg>
</body></html>
